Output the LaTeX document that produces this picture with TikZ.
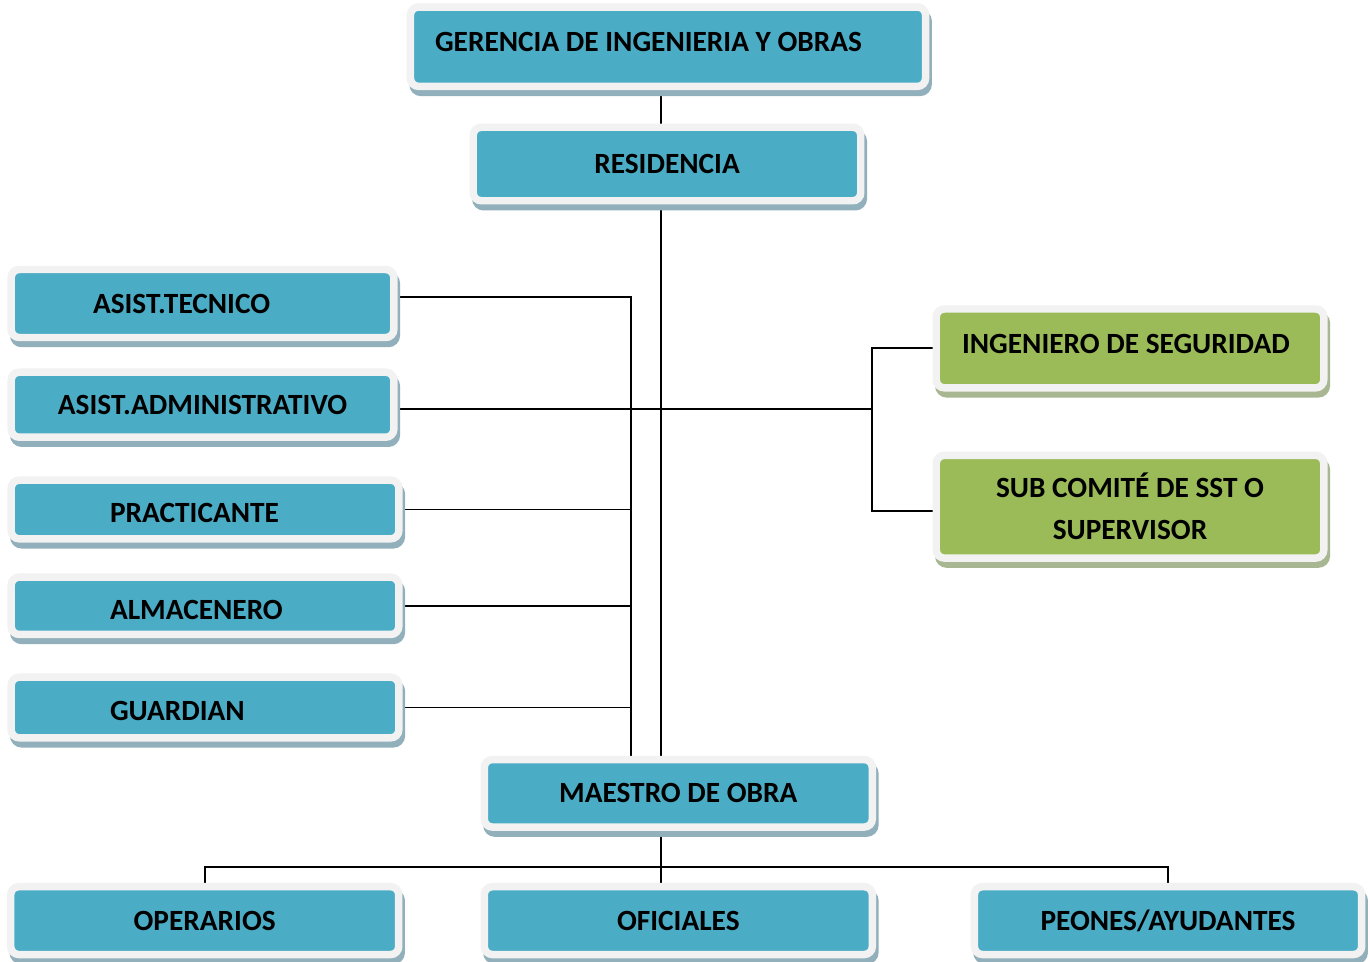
\documentclass[tikz,border=0pt]{standalone}
\usepackage{fontspec}
\setmainfont{Carlito}
\usetikzlibrary{backgrounds}
\definecolor{celeste}{RGB}{75,172,198}
\definecolor{pasto}{RGB}{155,187,89}
\definecolor{marco}{RGB}{242,242,242}
\definecolor{sombraceleste}{RGB}{146,176,187}
\definecolor{sombrapasto}{RGB}{168,182,146}
\tikzset{
  caja/.style 2 args={rectangle, rounded corners=6pt, draw=marco, line width=5.6pt, fill=#1, inner sep=0pt, text=black,
    font=\bfseries\fontsize{22}{26}\selectfont,
    preaction={draw=#2, fill=#2, transform canvas={xshift=1.9pt, yshift=-4.5pt}}},
  azul/.style={caja={celeste}{sombraceleste}},
  verde/.style={caja={pasto}{sombrapasto}},
  tam/.style 2 args={minimum width=#1*0.75pt, minimum height=#2*0.75pt},
  izq/.style 2 args={align=flush left, text width=#1, inner xsep=#2},
  subetexto/.style={text height=13.9pt, text depth=7pt},
  bajatexto/.style={text height=19.9pt, text depth=0pt},
  linea/.style={line width=1.4pt, black}
}
\begin{document}
\begin{tikzpicture}[x=0.75pt, y=-0.75pt]
  \useasboundingbox (0,0) rectangle (1370,961);

  % cabeza
  \node[azul, tam={515}{79.3}, izq={349.5pt}{18.4pt}, subetexto] (gerencia) at (668,46.7) {GERENCIA DE INGENIERIA Y OBRAS};
  \node[azul, tam={387.5}{73.5}] (residencia) at (667,164) {RESIDENCIA};

  % staff izquierdo
  \node[azul, tam={382.6}{68}, izq={164.25pt}{61.35pt}] (tecnico) at (202.5,303.5) {ASIST.TECNICO};
  \node[azul, tam={382.6}{65}] (admin) at (202.5,404.7) {ASIST.ADMINISTRATIVO};
  \node[azul, tam={387.6}{58.6}, izq={142.5pt}{74.1pt}, bajatexto] (practicante) at (205,509.5) {PRACTICANTE};
  \node[azul, tam={387.6}{57.3}, izq={142.5pt}{74.1pt}, bajatexto] (almacenero) at (205,605.8) {ALMACENERO};
  \node[azul, tam={387.6}{60.6}, izq={142.5pt}{74.1pt}, bajatexto] (guardian) at (205,707.5) {GUARDIAN};

  % seguridad
  \node[verde, tam={387.5}{78.8}, izq={252pt}{19.3pt}, subetexto] (ingeniero) at (1130,348.4) {INGENIERO DE SEGURIDAD};
  \node[verde, tam={387.5}{102.7}, align=center, font=\bfseries\fontsize{22}{31.5}\selectfont] (subcomite) at (1130,506.7) {SUB COMITÉ DE SST O\\SUPERVISOR};

  % obra
  \node[azul, tam={388}{67.5}] (maestro) at (678.3,793.3) {MAESTRO DE OBRA};
  \node[azul, tam={388}{67.8}] (operarios) at (204.7,920.6) {OPERARIOS};
  \node[azul, tam={388}{67.8}] (oficiales) at (678.3,920.6) {OFICIALES};
  \node[azul, tam={387.2}{67.8}] (peones) at (1168,920.6) {PEONES/AYUDANTES};

  \coordinate (espina) at (661,0);
  \coordinate (busizq) at (631,0);
  \coordinate (busder) at (872,0);
  \coordinate (barra) at (0,867);

  \begin{scope}[on background layer]
    \fill[white] (0,0) rectangle (1370,961);
    \draw[linea] (gerencia.south -| espina) -- (residencia.north -| espina);
    \draw[linea] (residencia.south -| espina) -- (maestro.north -| espina);
    \draw[linea] ([yshift=4.9pt]tecnico.east) -| (maestro.north -| busizq);
    \draw[linea] ([yshift=-3.2pt]admin.east) -- ([yshift=-3.2pt]admin.east -| busder);
    \draw[linea] (practicante.east) -- (practicante.east -| busizq);
    \draw[linea] (almacenero.east) -- (almacenero.east -| busizq);
    \draw[linea] (guardian.east) -- (guardian.east -| busizq);
    \draw[linea] (ingeniero.west) -| ([yshift=-3.2pt]subcomite.west -| busder) -- ([yshift=-3.2pt]subcomite.west);
    \draw[linea] (maestro.south -| espina) -- (oficiales.north -| espina);
    \draw[linea] (operarios.north) |- (barra -| peones.north) -- (peones.north);
  \end{scope}
\end{tikzpicture}
\end{document}
